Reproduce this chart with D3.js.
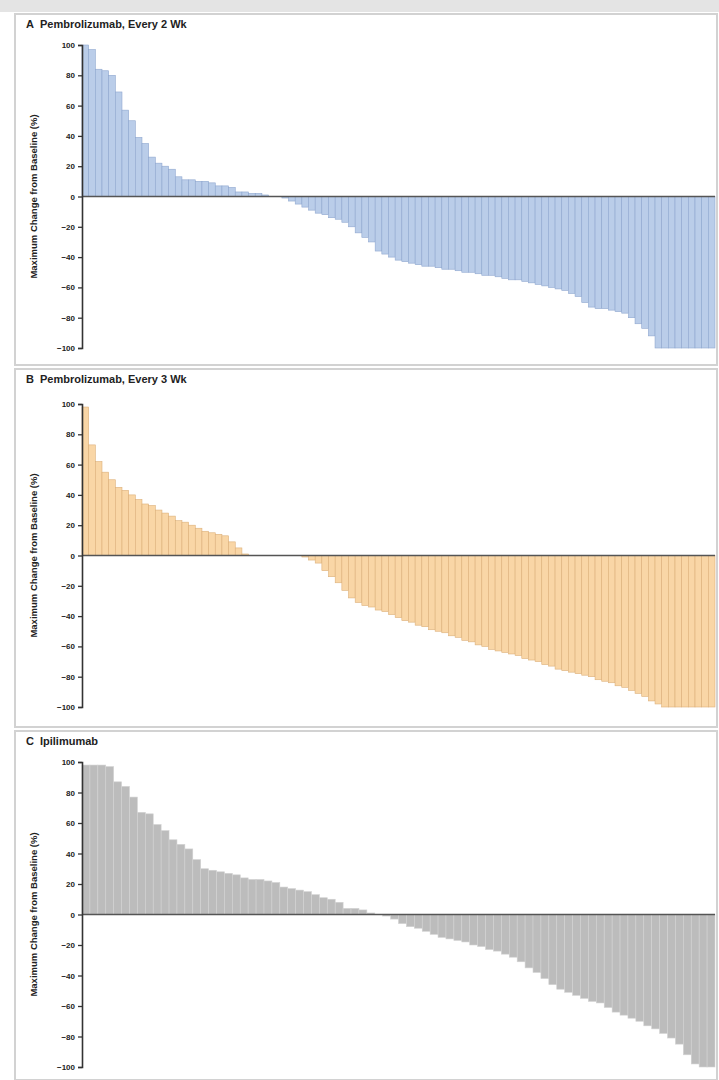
<!DOCTYPE html>
<html>
<head>
<meta charset="utf-8">
<script src="https://cdn.jsdelivr.net/npm/d3@7"></script>
<style>
	body { margin: 0; background: #fff; }
	svg { display: block; font-family: 'Liberation Sans', Arial, sans-serif; }
</style>
</head>
<body>
<div id="chart"></div>
<script>
const yTicks = [100, 80, 60, 40, 20, 0, -20, -40, -60, -80, -100];
const yLabel = 'Maximum Change from Baseline (%)';

const titlesA = ['A', 'Pembrolizumab, Every 2 Wk'];
const titlesB = ['B', 'Pembrolizumab, Every 3 Wk'];
const titlesC = ['C', 'Ipilimumab'];

const valuesA = [
	100, 97, 84, 83, 80, 69, 57, 50, 39, 35, 26, 22, 20, 18, 13, 11, 11, 10, 10, 9,
	7, 7, 6, 3, 3, 2, 2, 1, 0, 0, -1, -3, -5, -7, -9, -11, -12, -14, -15, -17,
	-20, -24, -27, -30, -36, -38, -40, -42, -43, -44, -45, -46, -46, -47, -48, -48, -49, -50, -50, -51,
	-52, -52, -53, -54, -55, -55, -56, -57, -58, -59, -60, -61, -62, -64, -66, -70, -73, -74, -74, -75,
	-76, -77, -80, -84, -87, -92, -100, -100, -100, -100, -100, -100, -100, -100, -100
];

const valuesB = [
	98, 73, 62, 55, 50, 45, 43, 40, 37, 34, 33, 30, 28, 26, 23, 22, 20, 18, 16, 15,
	14, 13, 9, 5, 1, 0, 0, 0, 0, 0, 0, 0, 0, -1, -3, -5, -10, -14, -18, -23,
	-28, -31, -33, -34, -36, -37, -39, -41, -43, -44, -46, -47, -49, -50, -51, -53, -54, -56, -57, -59,
	-60, -62, -63, -64, -65, -66, -68, -69, -70, -72, -73, -75, -76, -77, -78, -79, -80, -82, -83, -84,
	-86, -87, -89, -91, -93, -96, -98, -100, -100, -100, -100, -100, -100, -100, -100
];

const valuesC = [
	98, 98, 98, 97, 87, 84, 77, 67, 66, 59, 55, 49, 46, 43, 36, 30, 29, 28, 27, 26,
	24, 23, 23, 22, 21, 18, 17, 16, 15, 13, 11, 10, 8, 4, 4, 3, 1, 0, -1, -3,
	-6, -8, -9, -11, -13, -15, -16, -17, -18, -20, -21, -23, -24, -26, -28, -31, -35, -38, -42, -46,
	-49, -51, -53, -55, -57, -58, -61, -64, -66, -68, -70, -73, -75, -78, -81, -85, -92, -98, -100, -100
];

const width = 719;
const height = 1080;

const panels = [
	{title: titlesA, values: valuesA, top: 14, bottom: 365, y0: 45, y1: 348, fill: '#bacde9', stroke: '#8fa7cf'},
	{title: titlesB, values: valuesB, top: 369, bottom: 727, y0: 404, y1: 707, fill: '#f9d6a6', stroke: '#dcb07a'},
	{title: titlesC, values: valuesC, top: 731, bottom: 1080, y0: 762, y1: 1067, fill: '#bcbcbc', stroke: '#d2d2d2'}
];

const svg = d3.select('#chart')
	.append('svg')
	.attr('width', width)
	.attr('height', height);

// grey band across the top of the page
svg.append('rect')
	.attr('width', width)
	.attr('height', 12)
	.attr('fill', '#e4e4e4');

const _drawPanel = (p) =>{
	const left = 82;
	const right = 715;

	svg.append('rect')
		.attr('x', 15)
		.attr('y', p.top)
		.attr('width', 702)
		.attr('height', p.bottom - p.top)
		.attr('fill', '#fff')
		.attr('stroke', '#d2d2d2')
		.attr('stroke-width', 2);

	const title = svg.append('text')
		.attr('x', 26)
		.attr('y', p.top + 14)
		.attr('font-size', 11)
		.attr('font-weight', 'bold')
		.attr('fill', '#222');
	title.append('tspan').text(p.title[0]);
	title.append('tspan').attr('dx', 6).text(p.title[1]);

	const xScale = d3.scaleBand()
		.domain(d3.range(p.values.length))
		.range([left, right])
		.paddingInner(0);

	const yScale = d3.scaleLinear()
		.domain([100, -100])
		.range([p.y0, p.y1]);

	svg.append('g')
		.selectAll('rect')
		.data(p.values)
		.enter()
		.append('rect')
		.attr('x', (d, i) => xScale(i))
		.attr('width', xScale.bandwidth())
		.attr('y', d => yScale(Math.max(d, 0)))
		.attr('height', d => Math.abs(yScale(d) - yScale(0)))
		.attr('fill', p.fill)
		.attr('stroke', p.stroke)
		.attr('stroke-width', 0.6);

	// zero line
	svg.append('line')
		.attr('x1', left)
		.attr('x2', right)
		.attr('y1', yScale(0))
		.attr('y2', yScale(0))
		.attr('stroke', '#555')
		.attr('stroke-width', 1.4);

	const axis = svg.append('g')
		.attr('transform', `translate(${left}, 0)`)
		.call(d3.axisLeft(yScale).tickValues(yTicks).tickSize(4).tickPadding(3));

	axis.select('.domain')
		.attr('stroke', '#333')
		.attr('stroke-width', 1.6);
	axis.selectAll('.tick line')
		.attr('stroke', '#333')
		.attr('stroke-width', 1.3);
	axis.selectAll('.tick text')
		.attr('font-size', 8)
		.attr('font-weight', 'bold')
		.attr('fill', '#222');

	svg.append('text')
		.attr('transform', `translate(37, ${yScale(0)}) rotate(-90)`)
		.attr('text-anchor', 'middle')
		.attr('font-size', 9.5)
		.attr('font-weight', 'bold')
		.attr('fill', '#222')
		.text(yLabel);
};

panels.forEach(_drawPanel);
</script>
</body>
</html>
